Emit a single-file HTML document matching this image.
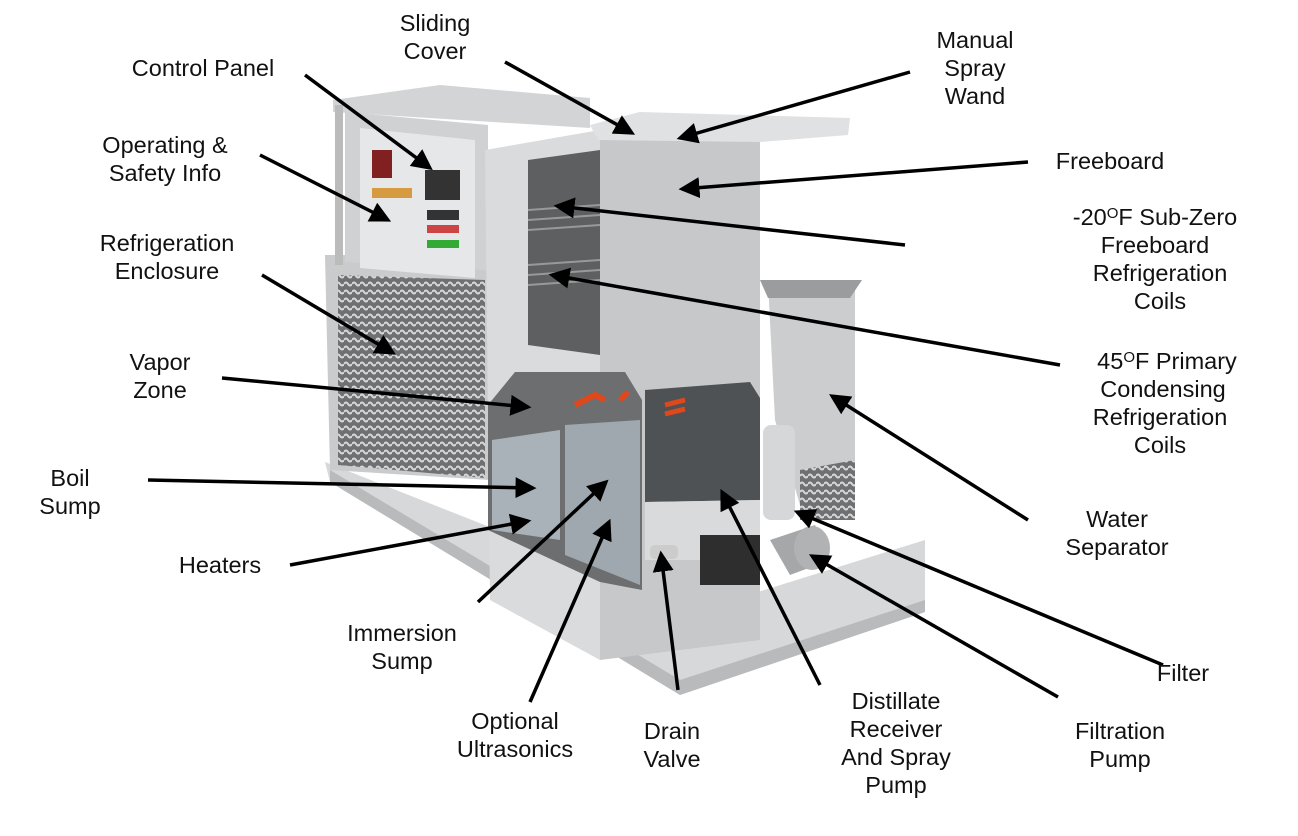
<!DOCTYPE html>
<html><head><meta charset="utf-8"><style>
html,body{margin:0;padding:0;background:#fff;}
svg{display:block}
text{font-family:"Liberation Sans",Arial,sans-serif;font-size:23.5px;fill:#111;text-anchor:middle}
</style></head><body>
<svg width="1298" height="836" viewBox="0 0 1298 836" xmlns="http://www.w3.org/2000/svg">
<defs>
<marker id="a" markerWidth="6" markerHeight="6" refX="5" refY="3" orient="auto" markerUnits="strokeWidth">
<path d="M0,0 L6,3 L0,6 z" fill="#000"/></marker>
<pattern id="mesh" width="8" height="8" patternUnits="userSpaceOnUse">
<rect width="8" height="8" fill="#6f7072"/><path d="M0,4 Q2,1 4,4 T8,4" stroke="#d8d8d8" stroke-width="2" fill="none"/></pattern>
</defs>
<!-- base plate -->
<polygon points="325,462 330,482 680,695 925,612 925,540 700,610" fill="#d6d8da"/>
<polygon points="330,470 680,680 925,600 925,612 680,695 330,482" fill="#b8babc"/>
<!-- refrigeration enclosure -->
<polygon points="325,255 490,255 490,480 330,470" fill="#c9cbcd"/>
<polygon points="338,275 485,280 485,478 338,465" fill="url(#mesh)"/>
<!-- control panel box -->
<polygon points="333,100 440,85 590,98 590,128 333,112" fill="#d2d4d6"/>
<rect x="335" y="105" width="8" height="160" fill="#bbb"/>
<polygon points="345,112 488,125 488,270 345,262" fill="#cfd1d3"/>
<polygon points="360,128 475,140 475,278 360,268" fill="#e6e7e8"/>
<rect x="372" y="150" width="20" height="28" fill="#802020"/>
<rect x="372" y="188" width="40" height="10" fill="#d69a40"/>
<rect x="425" y="170" width="35" height="30" fill="#333"/>
<rect x="427" y="210" width="32" height="10" fill="#333"/>
<rect x="427" y="225" width="32" height="8" fill="#c44"/>
<rect x="427" y="240" width="32" height="8" fill="#3a3"/>
<!-- main tank -->
<polygon points="485,150 600,130 600,660 490,600" fill="#d9dbdd"/>
<polygon points="600,130 760,135 760,640 600,660" fill="#c6c8ca"/>
<polygon points="590,125 640,112 850,118 848,135 760,142 598,140" fill="#dfe1e3"/>
<!-- upper cutout -->
<polygon points="528,160 600,150 600,355 528,345" fill="#5e5f61"/>
<g stroke="#999" stroke-width="2"><line x1="528" y1="210" x2="600" y2="205"/><line x1="528" y1="220" x2="600" y2="215"/><line x1="528" y1="230" x2="600" y2="225"/><line x1="528" y1="265" x2="600" y2="260"/><line x1="528" y1="275" x2="600" y2="270"/><line x1="528" y1="285" x2="600" y2="280"/></g>
<!-- lower cutout -->
<polygon points="488,405 515,372 625,372 642,400 642,590 600,582 488,530" fill="#6d6e70"/>
<polygon points="492,440 560,430 560,540 492,530" fill="#a9b2b8"/>
<polygon points="565,425 640,420 640,585 565,555" fill="#9fa8ae"/>
<path d="M575,405 l20,-10 l10,5 M620,400 l8,-8" stroke="#e0481c" stroke-width="6" fill="none"/>
<!-- right cutout -->
<polygon points="645,390 750,382 760,398 760,500 645,502" fill="#4f5255"/>
<path d="M665,405 l20,-5 M665,414 l20,-5" stroke="#e0481c" stroke-width="5"/>
<polygon points="645,502 760,500 760,540 700,560 645,560" fill="#d8dadc"/>
<rect x="700" y="535" width="60" height="50" fill="#2e2e2e"/>
<!-- water separator -->
<polygon points="768,282 855,282 855,480 800,505 775,420" fill="#cbcdcf"/>
<polygon points="760,280 862,280 850,298 768,298" fill="#9a9c9e"/>
<polygon points="800,470 855,460 855,520 800,520" fill="url(#mesh)"/>
<!-- filter & pump -->
<rect x="763" y="425" width="32" height="95" rx="8" fill="#d5d7d9"/>
<polygon points="770,540 815,525 830,560 790,575" fill="#a5a7a9"/>
<ellipse cx="812" cy="548" rx="18" ry="22" fill="#b0b2b4"/>
<rect x="650" y="545" width="28" height="14" rx="5" fill="#ccc"/>
<!-- arrows -->
<g stroke="#000" stroke-width="3.5" fill="none" marker-end="url(#a)">
<line x1="505" y1="62" x2="632" y2="133"/>
<line x1="305" y1="75" x2="430" y2="168"/>
<line x1="910" y1="72" x2="680" y2="138"/>
<line x1="260" y1="155" x2="388" y2="220"/>
<line x1="1028" y1="162" x2="682" y2="189"/>
<line x1="905" y1="245" x2="557" y2="206"/>
<line x1="262" y1="275" x2="393" y2="353"/>
<line x1="1060" y1="365" x2="552" y2="275"/>
<line x1="222" y1="378" x2="528" y2="407"/>
<line x1="1028" y1="520" x2="832" y2="396"/>
<line x1="148" y1="480" x2="533" y2="488"/>
<line x1="290" y1="565" x2="528" y2="521"/>
<line x1="478" y1="602" x2="606" y2="482"/>
<line x1="1163" y1="665" x2="797" y2="512"/>
<line x1="530" y1="702" x2="609" y2="522"/>
<line x1="678" y1="690" x2="661" y2="554"/>
<line x1="820" y1="685" x2="722" y2="492"/>
<line x1="1058" y1="697" x2="812" y2="556"/>
</g>
<!-- labels -->
<text x="435" y="31">Sliding</text><text x="435" y="59">Cover</text>
<text x="203" y="76">Control Panel</text>
<text x="975" y="48">Manual</text><text x="975" y="76">Spray</text><text x="975" y="104">Wand</text>
<text x="165" y="153">Operating &amp;</text><text x="165" y="181">Safety Info</text>
<text x="1110" y="169">Freeboard</text>
<text x="1155" y="225">-20<tspan font-size="15" dy="-7">O</tspan><tspan dy="7">F Sub-Zero</tspan></text>
<text x="1155" y="253">Freeboard</text><text x="1160" y="281">Refrigeration</text><text x="1160" y="309">Coils</text>
<text x="167" y="251">Refrigeration</text><text x="167" y="279">Enclosure</text>
<text x="160" y="370">Vapor</text><text x="160" y="398">Zone</text>
<text x="1167" y="369">45<tspan font-size="15" dy="-7">O</tspan><tspan dy="7">F Primary</tspan></text>
<text x="1163" y="397">Condensing</text><text x="1160" y="425">Refrigeration</text><text x="1160" y="453">Coils</text>
<text x="70" y="486">Boil</text><text x="70" y="514">Sump</text>
<text x="1117" y="527">Water</text><text x="1117" y="555">Separator</text>
<text x="220" y="573">Heaters</text>
<text x="402" y="641">Immersion</text><text x="402" y="669">Sump</text>
<text x="1183" y="681">Filter</text>
<text x="515" y="729">Optional</text><text x="515" y="757">Ultrasonics</text>
<text x="672" y="739">Drain</text><text x="672" y="767">Valve</text>
<text x="896" y="709">Distillate</text><text x="896" y="737">Receiver</text><text x="896" y="765">And Spray</text><text x="896" y="793">Pump</text>
<text x="1120" y="739">Filtration</text><text x="1120" y="767">Pump</text>
</svg>
</body></html>
